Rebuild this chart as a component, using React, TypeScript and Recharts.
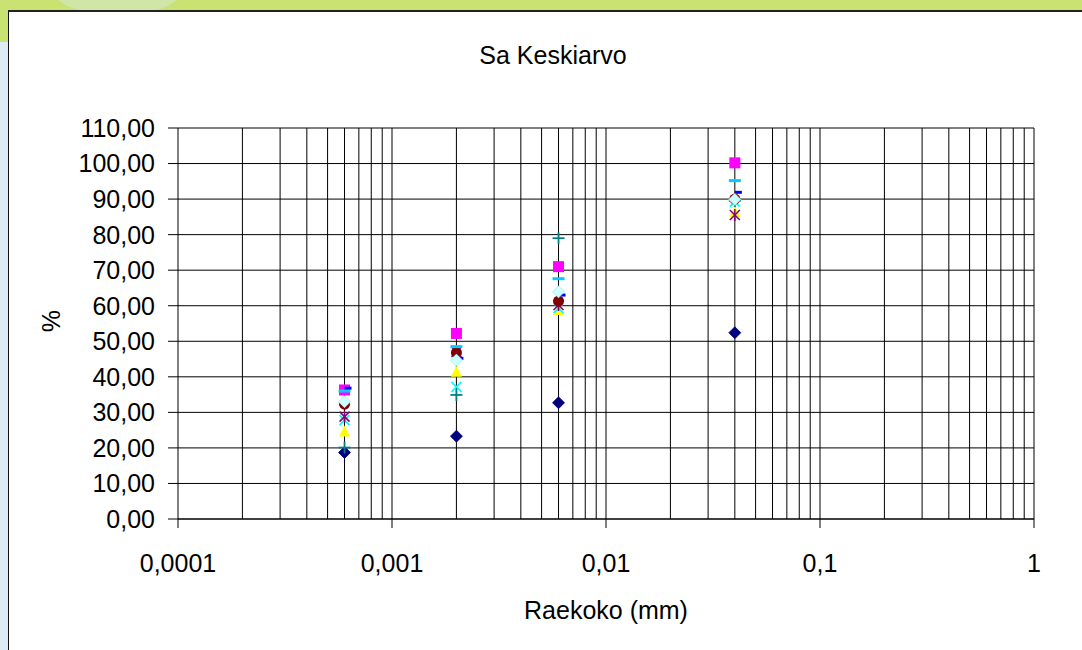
import React from 'react';
import { ScatterChart, Scatter, XAxis, YAxis, CartesianGrid, ReferenceLine } from 'recharts';

// ---- data ----
const grainSizes = [0.0006, 0.002, 0.006, 0.04];
const s1 = [18.7, 23.3, 32.7, 52.4];
const s2 = [36.3, 52.2, 71.0, 100.2];
const s3 = [24.6, 41.4, 58.8, 86.4];
const s4 = [27.8, 37.2, 59.3, 89.3];
const s5 = [28.8, 47.0, 60.2, 85.5];
const s6 = [32.3, 46.8, 61.3, 90.0];
const s7 = [20.1, 34.9, 79.0, 89.5];
const s8 = [36.8, 45.2, 63.0, 91.9];
const s9 = [36.0, 48.5, 67.6, 95.2];
const s10 = [33.0, 44.7, 63.9, 89.9];

const xTicks = [0.0001, 0.001, 0.01, 0.1, 1];
const xGridValues = [
  0.0002, 0.0003, 0.0004, 0.0005, 0.0006, 0.0007, 0.0008, 0.0009,
  0.001, 0.002, 0.003, 0.004, 0.005, 0.006, 0.007, 0.008, 0.009,
  0.01, 0.02, 0.03, 0.04, 0.05, 0.06, 0.07, 0.08, 0.09,
  0.1, 0.2, 0.3, 0.4, 0.5, 0.6, 0.7, 0.8, 0.9, 1,
];
const yTicks = [0, 10, 20, 30, 40, 50, 60, 70, 80, 90, 100, 110];

const seriesValues = [s1, s2, s3, s4, s5, s6, s7, s8, s9, s10];
const seriesColors = ['#000080', '#FF00FF', '#FFFF00', '#00FFFF', '#800080', '#800000', '#008080', '#0000FF', '#00CCFF', '#CCFFFF'];
const seriesMarkers = ['diamond', 'square', 'triangle', 'x', 'star', 'circle', 'plus', 'shortbar', 'longbar', 'diamond'];

const FONT = '"Liberation Sans", Arial, sans-serif';

function makeShape(kind: string, color: string) {
  return (props: any) => {
    const cx = props.cx;
    const cy = props.cy;
    if (cx == null || cy == null) return <g />;
    switch (kind) {
      case 'diamond':
        return <polygon points={`${cx},${cy - 6} ${cx + 6},${cy} ${cx},${cy + 6} ${cx - 6},${cy}`} fill={color} stroke={color === '#CCFFFF' ? '#99EEEE' : color} strokeWidth={0.8} />;
      case 'square':
        return <rect x={cx - 5.5} y={cy - 5.5} width={11} height={11} fill={color} />;
      case 'triangle':
        return <polygon points={`${cx},${cy - 6} ${cx + 5.5},${cy + 5} ${cx - 5.5},${cy + 5}`} fill={color} />;
      case 'x':
        return (
          <g stroke={color} strokeWidth={1.8}>
            <line x1={cx - 5} y1={cy - 5} x2={cx + 5} y2={cy + 5} />
            <line x1={cx - 5} y1={cy + 5} x2={cx + 5} y2={cy - 5} />
          </g>
        );
      case 'star':
        return (
          <g stroke={color} strokeWidth={1.5}>
            <line x1={cx - 5} y1={cy - 5} x2={cx + 5} y2={cy + 5} />
            <line x1={cx - 5} y1={cy + 5} x2={cx + 5} y2={cy - 5} />
            <line x1={cx} y1={cy - 6} x2={cx} y2={cy + 6} />
          </g>
        );
      case 'circle':
        return <circle cx={cx} cy={cy} r={5.5} fill={color} />;
      case 'plus':
        return (
          <g stroke={color} strokeWidth={1.8}>
            <line x1={cx - 6} y1={cy} x2={cx + 6} y2={cy} />
            <line x1={cx} y1={cy - 6} x2={cx} y2={cy + 6} />
          </g>
        );
      case 'shortbar':
        return <rect x={cx} y={cy - 1.5} width={7} height={3} fill={color} />;
      case 'longbar':
        return <rect x={cx - 6} y={cy - 1.5} width={12} height={3} fill={color} />;
      default:
        return <circle cx={cx} cy={cy} r={4} fill={color} />;
    }
  };
}

const fmtX = (v: number) => String(v).replace('.', ',');
const fmtY = (v: number) => v.toFixed(2).replace('.', ',');

export default function App() {
  const seriesData = seriesValues.map((vals) => grainSizes.map((x, i) => ({ x, y: vals[i] })));
  return (
    <div style={{ position: 'fixed', left: 0, top: 0, width: 1082, height: 650, overflow: 'hidden', background: '#DDEBF7' }}>
      {/* slide background */}
      <div style={{ position: 'absolute', left: 0, top: 0, width: 1082, height: 11, background: '#C9E372' }} />
      <div style={{ position: 'absolute', left: 0, top: 0, width: 10, height: 42, background: '#C9E372' }} />
      <div style={{ position: 'absolute', left: 55, top: -30, width: 125, height: 45, borderRadius: '50%', background: '#CFE6A8' }} />
      {/* chart area */}
      <div style={{ position: 'absolute', left: 8, top: 10, width: 1100, height: 660, background: '#fff', borderLeft: '1.5px solid #111', borderTop: '2px solid #222' }} />
      <div style={{ position: 'absolute', left: 0, top: 0 }}>
        <ScatterChart width={1082} height={650} margin={{ top: 128, right: 48, bottom: 71, left: 78 }}>
          <CartesianGrid stroke="#000" strokeWidth={1} vertical={false} horizontalValues={yTicks} />
          {xGridValues.map((v) => (
            <ReferenceLine key={v} x={v} stroke="#000" strokeWidth={1} />
          ))}
          <XAxis
            type="number"
            dataKey="x"
            scale="log"
            domain={[0.0001, 1]}
            ticks={xTicks}
            allowDataOverflow
            height={60}
            tickSize={9}
            tickMargin={26}
            tickFormatter={fmtX}
            stroke="#000"
            tick={{ fill: '#000', fontSize: 25, fontFamily: FONT }}
            label={{ value: 'Raekoko (mm)', position: 'bottom', offset: 22, fill: '#000', fontSize: 25, fontFamily: FONT }}
          />
          <YAxis
            type="number"
            dataKey="y"
            domain={[0, 110]}
            ticks={yTicks}
            allowDataOverflow
            width={100}
            tickSize={10}
            tickMargin={13}
            tickFormatter={fmtY}
            stroke="#000"
            tick={{ fill: '#000', fontSize: 25, fontFamily: FONT }}
          />
          {seriesData.map((d, i) => (
            <Scatter
              key={i}
              name={`S${i + 1}`}
              data={d}
              fill={seriesColors[i]}
              shape={makeShape(seriesMarkers[i], seriesColors[i])}
              isAnimationActive={false}
            />
          ))}
        </ScatterChart>
      </div>
      <div style={{ position: 'absolute', left: 403, top: 40, width: 300, textAlign: 'center', fontFamily: FONT, fontSize: 25, color: '#000', lineHeight: '30px' }}>
        Sa Keskiarvo
      </div>
      <div style={{ position: 'absolute', left: 21, top: 306, width: 60, height: 30, textAlign: 'center', fontFamily: FONT, fontSize: 25, color: '#000', lineHeight: '30px', transform: 'rotate(-90deg)' }}>
        %
      </div>
    </div>
  );
}
